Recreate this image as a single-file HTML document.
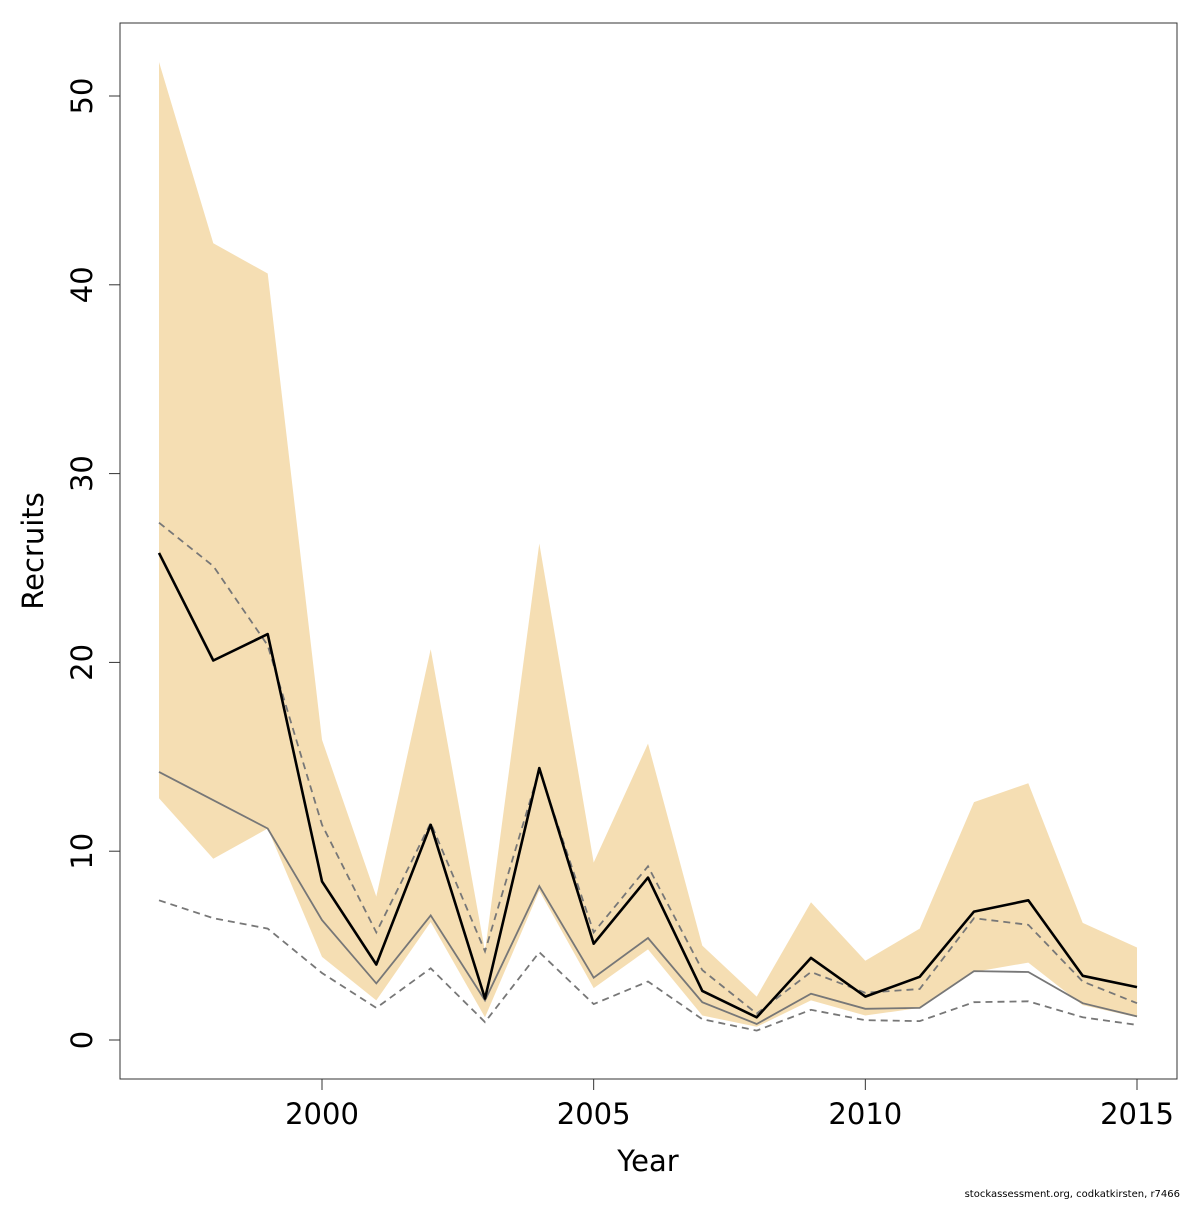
<!DOCTYPE html>
<html><head><meta charset="utf-8">
<style>
html,body{margin:0;padding:0;background:#fff;}
svg text{font-family:"DejaVu Sans","Liberation Sans",sans-serif;}
</style></head>
<body>
<svg id="chart" width="1200" height="1200" viewBox="0 0 1200 1200" xmlns="http://www.w3.org/2000/svg">
<rect width="1200" height="1200" fill="#fff"/>
<g id="plot"></g>
<rect x="120" y="23" width="1057" height="1056" fill="none" stroke="#333" stroke-width="1"/>
<g id="axes"></g>
<text x="648" y="1171" font-size="29" text-anchor="middle">Year</text>
<text transform="translate(43,551) rotate(-90)" font-size="29" text-anchor="middle">Recruits</text>
<text x="1180" y="1197" font-size="10" text-anchor="end">stockassessment.org, codkatkirsten, r7466</text>
</svg>
<script>
const years=[1997,1998,1999,2000,2001,2002,2003,2004,2005,2006,2007,2008,2009,2010,2011,2012,2013,2014,2015];
const bandUpper=[51.8,42.2,40.6,15.9,7.6,20.7,4.7,26.3,9.4,15.7,5.0,2.3,7.3,4.2,5.9,12.6,13.6,6.2,4.9];
const bandLower=[12.8,9.6,11.2,4.4,2.1,6.25,1.2,7.9,2.75,4.8,1.3,0.7,2.1,1.3,1.7,3.6,4.1,1.85,1.2];
const recruits=[25.8,20.1,21.5,8.4,4.0,11.4,2.2,14.4,5.1,8.6,2.6,1.2,4.35,2.3,3.35,6.8,7.4,3.4,2.8];
const altEstimate=[14.2,12.7,11.2,6.35,3.0,6.6,2.1,8.15,3.3,5.4,2.0,0.85,2.45,1.65,1.7,3.65,3.6,1.95,1.25];
const altUpper=[27.4,25.1,20.9,11.4,5.7,11.5,4.7,14.3,5.7,9.2,3.7,1.4,3.6,2.5,2.7,6.45,6.1,3.1,1.95];
const altLower=[7.4,6.45,5.9,3.55,1.7,3.8,0.95,4.65,1.9,3.1,1.1,0.5,1.6,1.05,1.0,2.0,2.05,1.2,0.8];
const xTicks=[2000,2005,2010,2015];
const yTicks=[0,10,20,30,40,50];

const NS="http://www.w3.org/2000/svg";
const xs=y=>322+(y-2000)*(1137-322)/15;
const ys=v=>1040-v*(1040-96)/50;
const plot=document.getElementById('plot'), axes=document.getElementById('axes');
function mk(tag,attrs,parent){const e=document.createElementNS(NS,tag);for(const k in attrs)e.setAttribute(k,attrs[k]);parent.appendChild(e);return e;}
const pts=arr=>arr.map((v,i)=>xs(years[i]).toFixed(1)+','+ys(v).toFixed(1)).join(' ');

const band=mk('polygon',{points:pts(bandUpper)+' '+bandLower.map((v,i)=>[xs(years[i]),ys(v)]).reverse().map(p=>p[0].toFixed(1)+','+p[1].toFixed(1)).join(' '),fill:'#f5deb3',stroke:'none'},plot);



const l1=mk('polyline',{points:pts(altEstimate),fill:'none',stroke:'#777','stroke-width':1.8},plot);


const l2=mk('polyline',{points:pts(altUpper),fill:'none',stroke:'#777','stroke-width':1.8,'stroke-dasharray':'7,5'},plot);


const l3=mk('polyline',{points:pts(altLower),fill:'none',stroke:'#777','stroke-width':1.8,'stroke-dasharray':'7,5'},plot);


const l4=mk('polyline',{points:pts(recruits),fill:'none',stroke:'#000','stroke-width':2.6,'stroke-linejoin':'round'},plot);



xTicks.forEach(t=>{
  const tk=mk('line',{x1:xs(t),x2:xs(t),y1:1079,y2:1090,stroke:'#333'},axes);
  
  
  const tx=mk('text',{x:xs(t),y:1124,'font-size':29,'text-anchor':'middle'},axes);
  tx.textContent=t;
  
  
});
yTicks.forEach(t=>{
  const tk=mk('line',{x1:109,x2:120,y1:ys(t),y2:ys(t),stroke:'#333'},axes);
  
  
  const tx=mk('text',{transform:'translate(92,'+ys(t)+') rotate(-90)','font-size':29,'text-anchor':'middle'},axes);
  tx.textContent=t;
  
  
});
</script>
</body></html>
